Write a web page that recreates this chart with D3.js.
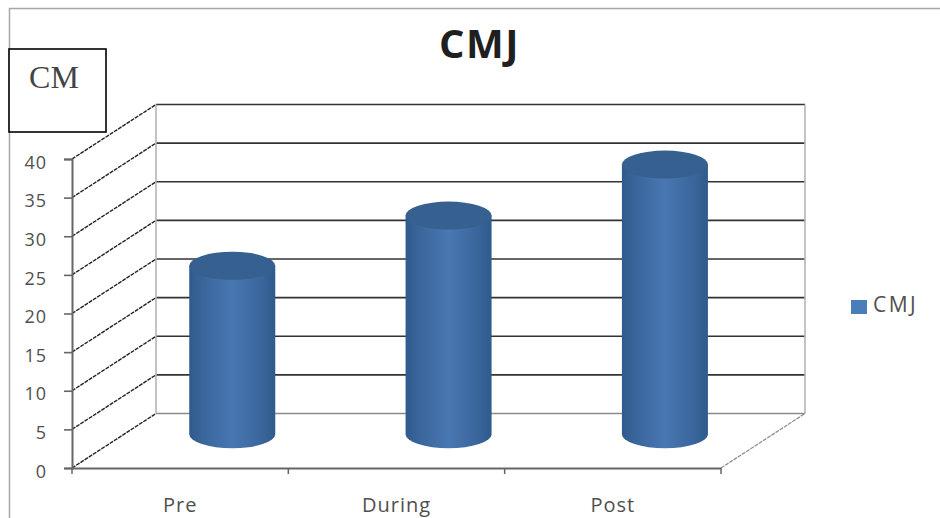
<!DOCTYPE html>
<html>
<head>
<meta charset="utf-8">
<script src="https://cdn.jsdelivr.net/npm/d3@7"></script>
<style>
html,body{margin:0;padding:0;background:#fff;}
svg{display:block;}
text{font-family:"Open Sans",sans-serif;}
</style>
</head>
<body>
<svg id="chart" width="940" height="518"></svg>
<script>
const categories = ["Pre", "During", "Post"];
const seriesName = "CMJ";
const seriesValues = [21.8, 28.3, 34.9];
const yTicks = [0, 5, 10, 15, 20, 25, 30, 35, 40];
const unitLabel = "CM";

const svg = d3.select("#chart");

const x = d3.scaleBand().domain(categories).range([72, 721]);
const y = d3.scaleLinear().domain([0, 40]).range([468, 159]);
// Oblique projection of the depth axis: 0 = front plane, 1 = back wall
const depthX = d3.scaleLinear().domain([0, 1]).range([0, 84]);
const depthY = d3.scaleLinear().domain([0, 1]).range([0, -54.5]);
const barDepth = 0.62;
const barRx = 43, barRy = 14;

// Outer chart frame
svg.append("path").attr("d", "M9.5,518V8.5H940").attr("fill", "none")
  .attr("stroke", "#a6a6a6").attr("stroke-width", 1.5);

const defs = svg.append("defs");
const grad = defs.append("linearGradient").attr("id", "barShade");
[[0, "#2f5a8c"], [0.15, "#3a659b"], [0.5, "#4877b2"], [0.85, "#3a659b"], [1, "#2f5a8c"]]
  .forEach(([o, c]) => grad.append("stop").attr("offset", o).attr("stop-color", c));

// Back wall gridlines and edges
const xL = x.range()[0], xR = x.range()[1];
const backL = xL + depthX(1), backR = xR + depthX(1);
const grid = svg.append("g");
grid.selectAll("line.back").data(yTicks).join("line").attr("class", "back")
  .attr("x1", backL).attr("x2", backR)
  .attr("y1", d => y(d) + depthY(1)).attr("y2", d => y(d) + depthY(1))
  .attr("stroke", d => d === 0 ? "#8a8a8a" : "#333").attr("stroke-width", 1.6);
grid.selectAll("line.edge").data([backL, backR]).join("line").attr("class", "edge")
  .attr("x1", d => d).attr("x2", d => d)
  .attr("y1", y(40) + depthY(1)).attr("y2", y(0) + depthY(1))
  .attr("stroke", "#b5b5b5").attr("stroke-width", 1.6);

// Side wall lines running from the value axis back to the wall
grid.selectAll("line.side").data(yTicks).join("line").attr("class", "side")
  .attr("x1", xL).attr("x2", backL)
  .attr("y1", d => y(d)).attr("y2", d => y(d) + depthY(1))
  .attr("stroke", "#222").attr("stroke-width", 1.4).attr("stroke-dasharray", "4 1");

// Floor edge on the right
grid.append("line").attr("x1", xR).attr("x2", backR)
  .attr("y1", y(0)).attr("y2", y(0) + depthY(1))
  .attr("stroke", "#8f8f8f").attr("stroke-width", 1.3).attr("stroke-dasharray", "4 1");

// Cylinders
const bars = svg.append("g").selectAll("g")
  .data(categories.map((c, i) => ({ c, v: seriesValues[i] })))
  .join("g")
  .attr("transform", d => `translate(${x(d.c) + x.bandwidth() / 2 + depthX(barDepth)},${depthY(barDepth)})`);

bars.append("path")
  .attr("d", d => {
    const t = y(d.v), b = y(0);
    return `M${-barRx},${t}V${b}A${barRx},${barRy} 0 0 0 ${barRx},${b}V${t}Z`;
  })
  .attr("fill", "url(#barShade)");
bars.append("ellipse")
  .attr("cx", 0).attr("cy", d => y(d.v))
  .attr("rx", barRx).attr("ry", barRy)
  .attr("fill", "#35608f");

// Axes
const axisColor = "#666";
const yAxis = svg.append("g").attr("transform", `translate(${xL},0)`)
  .call(d3.axisLeft(y).tickValues(yTicks).tickSize(8).tickPadding(17));
const xAxis = svg.append("g").attr("transform", `translate(0,${y(0)})`)
  .call(d3.axisBottom(x).tickSize(0).tickPadding(30));
xAxis.append("g").selectAll("line")
  .data(x.domain().map(d => x(d)).concat(xR))
  .join("line")
  .attr("x1", d => d).attr("x2", d => d).attr("y1", 0).attr("y2", 6)
  .attr("stroke", axisColor).attr("stroke-width", 1.5);
[yAxis, xAxis].forEach(a => {
  a.selectAll(".domain").attr("stroke", axisColor).attr("stroke-width", 2);
  a.selectAll(".tick line").attr("stroke", axisColor).attr("stroke-width", 1.6);
  a.selectAll("text").attr("fill", "#4f4f4f")
    .attr("font-family", '"Open Sans",sans-serif');
});
yAxis.selectAll("text").attr("font-size", 18).attr("letter-spacing", 1).attr("dy", "0.62em").attr("y", -2);
xAxis.selectAll("text").attr("font-size", 20).attr("letter-spacing", 1);

// Title
svg.append("text").attr("x", 479.5).attr("y", 58).attr("text-anchor", "middle")
  .attr("font-size", 40).attr("font-weight", 700).attr("letter-spacing", 1.5)
  .attr("fill", "#1f1f1f").text(seriesName);

// Legend
svg.append("rect").attr("x", 851).attr("y", 300).attr("width", 16).attr("height", 14).attr("fill", "#4a7ebb");
svg.append("text").attr("x", 873).attr("y", 312).attr("font-size", 21).attr("letter-spacing", 2.5)
  .attr("fill", "#4f4f4f").text(seriesName);

// Unit box over the top left corner
svg.append("rect").attr("x", 9).attr("y", 49).attr("width", 97).attr("height", 83)
  .attr("fill", "#fff").attr("stroke", "#000").attr("stroke-width", 1.6);
svg.append("text").attr("x", 54).attr("y", 88).attr("text-anchor", "middle")
  .attr("font-size", 32).attr("fill", "#444")
  .style("font-family", '"Liberation Serif",serif').text(unitLabel);
</script>
</body>
</html>
